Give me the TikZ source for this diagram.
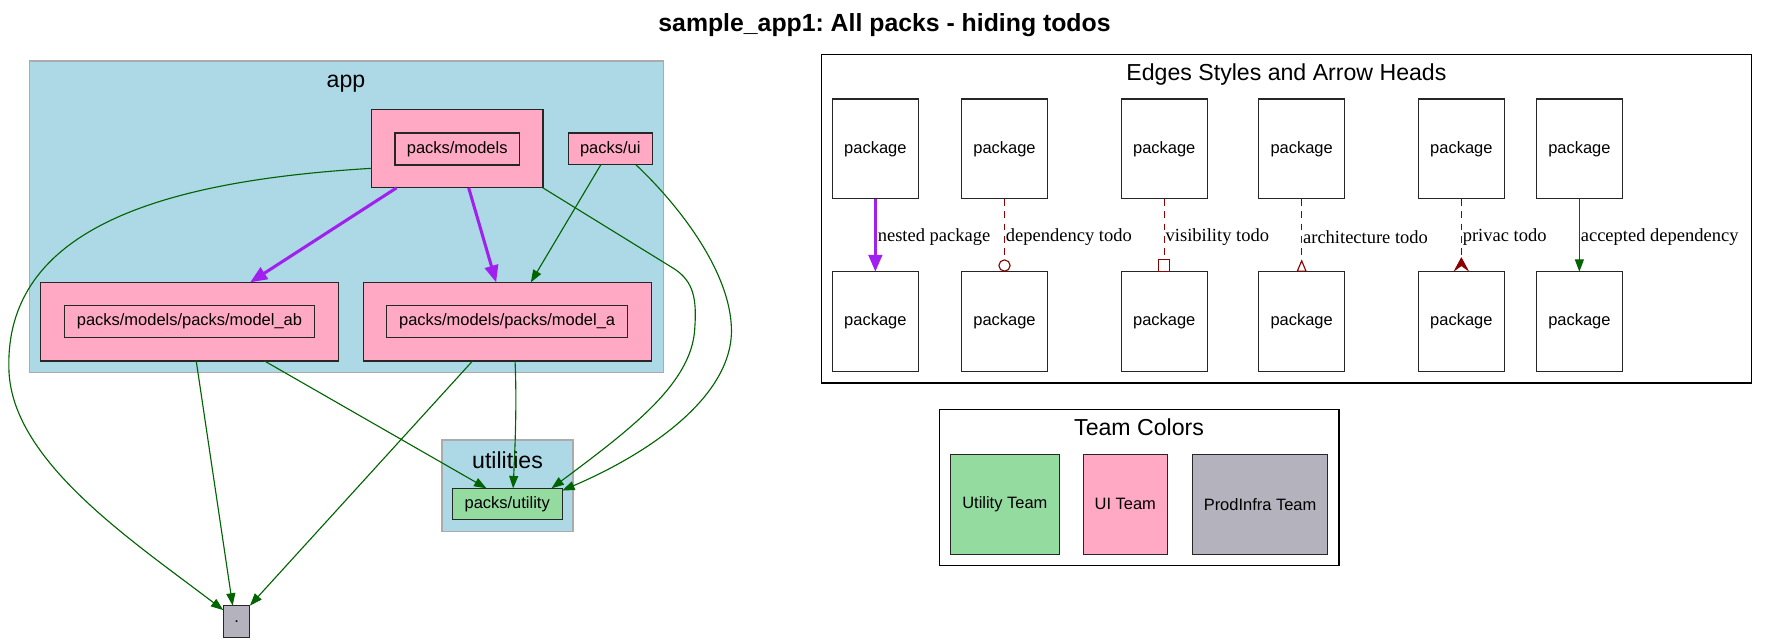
\documentclass[tikz,border=0pt]{standalone}
\usepackage{fontspec}
\setmainfont{Liberation Sans}
\newfontfamily\seriffont{Liberation Serif}
\usetikzlibrary{arrows.meta,calc}
\frenchspacing
\definecolor{pinkfill}{HTML}{FFA9C5}
\definecolor{greenfill}{HTML}{94DB9F}
\definecolor{grayfill}{HTML}{B4B3BD}
\definecolor{clusterblue}{HTML}{ADD8E6}
\definecolor{clusterline}{HTML}{ABABAB}
\definecolor{nestpurple}{HTML}{A020F0}
\definecolor{depgreen}{HTML}{006400}
\definecolor{tododark}{HTML}{8B0000}
\definecolor{boxline}{HTML}{262626}
\begin{document}
\begin{tikzpicture}[x=1pt,y=-1pt,
  box/.style={draw=boxline, line width=1pt, inner sep=0pt, outer sep=0pt,
    font=\fontsize{14.6}{17}\selectfont},
  pinkbox/.style={box, fill=pinkfill},
  greenbox/.style={box, fill=greenfill},
  graybox/.style={box, fill=grayfill},
  whitebox/.style={box, fill=white, minimum width=76.5pt, minimum height=88.5pt},
  cluster/.style={fill=clusterblue, draw=clusterline, line width=1.2pt},
  legendframe/.style={draw=black, line width=1pt},
  clabel/.style={font=\fontsize{20.5}{24}\selectfont, anchor=base, inner sep=0pt},
  elabel/.style={font=\seriffont\fontsize{16.4}{19}\selectfont, anchor=west, inner sep=0.8pt, yshift=-1.5pt},
  dep/.style={draw=depgreen, line width=1pt, -{Triangle[length=11pt,width=8pt]}},
  nest/.style={draw=nestpurple, line width=2.7pt, -{Triangle[length=15pt,width=12pt]}},
  todo/.style={draw=tododark, line width=1pt, dash pattern=on 6pt off 5pt},
]
\useasboundingbox (0,0) rectangle (1568.6,570.2);

% title
\node[anchor=base, inner sep=0pt, font=\bfseries\fontsize{22}{26}\selectfont] (title) at (784.3,27.5) {sample\_app1: All packs - hiding todos};

% clusters
\draw[cluster] (26.1,54.1) rectangle (588.2,330.1);
\node[clabel] (applabel) at (306.8,77.7) {app};
\draw[cluster] (392,390) rectangle (508,471);
\node[clabel] (utillabel) at (450,415) {utilities};

% app nodes
\node[pinkbox, minimum width=151.9pt, minimum height=69.7pt] (models) at (405.5,131.75) {};
\node[pinkbox, minimum width=110.4pt, minimum height=28.4pt] (modelsin) at (405.4,132.1) {packs/models};
\node[pinkbox, minimum width=74.2pt, minimum height=28.1pt] (ui) at (541.1,132) {packs/ui};
\node[pinkbox, minimum width=264.1pt, minimum height=69.7pt] (ab) at (167.9,285.2) {};
\node[pinkbox, minimum width=222.2pt, minimum height=28.4pt] (abin) at (168,285.2) {packs/models/packs/model\_ab};
\node[pinkbox, minimum width=255.7pt, minimum height=69.7pt] (a) at (450.05,285.2) {};
\node[pinkbox, minimum width=214.1pt, minimum height=28.4pt] (ain) at (449.65,285.2) {packs/models/packs/model\_a};
\node[greenbox, minimum width=97.5pt, minimum height=28pt] (utility) at (449.75,447) {packs/utility};
\node[graybox, minimum width=23.6pt, minimum height=28pt] (dot) at (209.8,551) {.};

% app edges
\draw[nest] (models) -- (ab);
\draw[nest] (models) -- (a);
\draw[dep] (ui) -- (a);
\draw[dep] ([xshift=6.1pt]ab.south) -- ([xshift=-3.5pt]dot.north);
\draw[dep] ([xshift=66.6pt]ab.south) -- ([xshift=-18.4pt]utility.north);
\draw[dep] ([xshift=-31pt]a.south) -- (dot.north east);
\draw[dep] ([xshift=6.65pt]a.south) .. controls (458.5,360) and (456.5,400) .. ([xshift=5.25pt]utility.north);
\draw[dep] ([yshift=-17.5pt]models.west) .. controls (150,160) and (2,200) .. (8,330)
  .. controls (12,410) and (118,480) .. ([yshift=-4pt]dot.north west);
\draw[dep] (models.south east) -- (598.4,238.7) .. controls (615,250) and (618,265) .. (616,292)
  .. controls (613,340) and (560,380) .. ([xshift=39.25pt]utility.north);
\draw[dep] ([xshift=22.7pt]ui.south) .. controls (600,180) and (648,240) .. (648.6,292.6)
  .. controls (649,350) and (580,400) .. ([yshift=-2pt]utility.north east);

% legend: edge styles
\draw[legendframe] (728.4,48) rectangle (1553,339.6);
\node[clabel] (legtitle) at (1140.7,71.5) {Edges Styles and Arrow Heads};
\foreach \n/\x in {1/776.2,2/890.7,3/1032.35,4/1154.2,5/1295.8,6/1400.45}{
  \node[whitebox] (t\n) at (\x,132) {package};
  \node[whitebox] (b\n) at (\x,285.2) {package};
}
\draw[nest] (t1) -- node[elabel, pos=0.5] {nested package} (b1);
\draw[todo, -{Circle[open,length=11pt,width=11pt]}] (t2) -- node[elabel, pos=0.5] {dependency todo} (b2);
\draw[todo, -{Square[open,length=11pt,width=11pt]}] (t3) -- node[elabel, pos=0.5] {visibility todo} (b3);
\draw[todo, -{Triangle[open,reversed,length=11pt,width=9pt]}] (t4) -- node[elabel, pos=0.5] {architecture todo} (b4);
\draw[todo, -{Stealth[reversed,length=13pt,width=14pt,inset=5pt]}] (t5) -- node[elabel, pos=0.5] {privac todo} (b5);
\draw[dep] (t6) -- node[elabel, pos=0.5] {accepted dependency} (b6);

% legend: team colors
\draw[legendframe] (832.7,362.9) rectangle (1187.3,501.5);
\node[clabel] (teamtitle) at (1010,386.5) {Team Colors};
\node[greenbox, minimum width=96.3pt, minimum height=88.6pt] (utilteam) at (891,447.1) {Utility Team};
\node[pinkbox, minimum width=74.2pt, minimum height=88.6pt] (uiteam) at (997.8,447.1) {UI Team};
\node[graybox, minimum width=119.4pt, minimum height=88.6pt] (infrateam) at (1117.3,447.1) {ProdInfra Team};
\end{tikzpicture}
\end{document}
